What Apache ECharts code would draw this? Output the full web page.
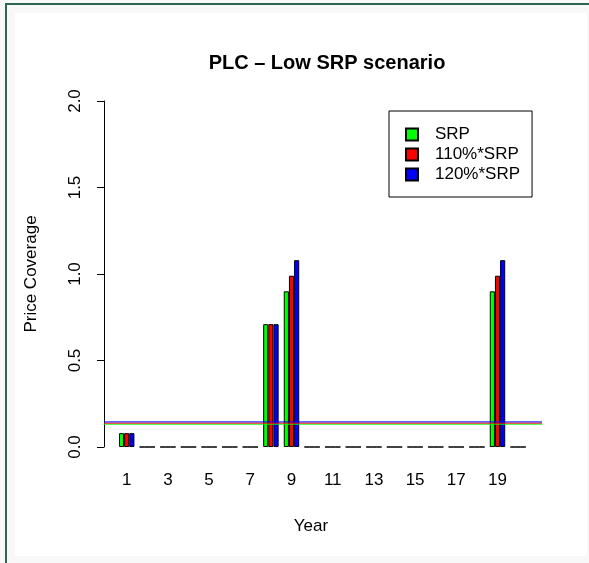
<!DOCTYPE html>
<html>
<head>
<meta charset="utf-8">
<script src="https://cdn.jsdelivr.net/npm/echarts@6/dist/echarts.min.js"></script>
<style>
    body{margin:0;background:#f8f8f8;font-family:"Liberation Sans",Arial,sans-serif;}
    #frame{position:absolute;left:5px;top:3px;width:600px;height:600px;border-left:2px solid #2e6656;border-top:2px solid #2e6656;}
    #chartmain{position:absolute;left:15px;top:13px;width:572px;height:543px;background:#fff;}
</style>
</head>
<body>
<div id="frame"></div>
<div id="chartmain"></div>
<script>
// data
var years=['1','2','3','4','5','6','7','8','9','10','11','12','13','14','15','16','17','18','19','20'];
var srp    =[0.08,0,0,0,0,0,0,0.71,0.90,0,0,0,0,0,0,0,0,0,0.90,0];
var srp110 =[0.08,0,0,0,0,0,0,0.71,0.99,0,0,0,0,0,0,0,0,0,0.99,0];
var srp120 =[0.08,0,0,0,0,0,0,0.71,1.08,0,0,0,0,0,0,0,0,0,1.08,0];
var seriesNames=['SRP','110%*SRP','120%*SRP'];
var hlines=[0.132,0.138,0.145];   // green, red, blue reference lines
var yTicks=[0,0.5,1,1.5,2];

var colors=['#00ff00','#ff0000','#0000ff'];
var font='Liberation Sans';
var myChart=echarts.init(document.getElementById('chartmain'));

function barSeries(name,data,col){
    return {
        name:name,
        type:'bar',
        xAxisIndex:0,
        yAxisIndex:0,
        data:data,
        barWidth:5.15,
        barGap:'0%',
        itemStyle:{color:col,borderColor:'#000',borderWidth:1},
        emphasis:{disabled:true}
    };
}

// horizontal reference line across the whole plot region
function hlineSeries(v,col){
    return {
        type:'line',xAxisIndex:1,yAxisIndex:1,
        data:[[0,v],[1,v]],
        symbol:'none',silent:true,
        lineStyle:{color:col,width:1},
        z:5
    };
}

var option={
    animation:false,
    title:[
        {text:'PLC \u2013 Low SRP scenario',left:307,top:35,textAlign:'center',
         textStyle:{fontFamily:font,fontSize:20,fontWeight:'bold',color:'#000'}},
        {text:'Year',left:291,top:500,textAlign:'center',
         textStyle:{fontFamily:font,fontSize:17,fontWeight:'normal',color:'#000'}}
    ],
    legend:{
        orient:'vertical',
        left:374,top:98,
        data:seriesNames,
        icon:'rect',
        itemWidth:12,itemHeight:12,itemGap:3,
        padding:[15,12,14,16],
        borderColor:'#000',borderWidth:1,
        textStyle:{fontFamily:font,fontSize:17,lineHeight:14,color:'#000',padding:[0,0,0,12]},
        selectedMode:false
    },
    grid:[
        {left:101.4,top:88,width:412,height:346},
        {left:87,top:88,width:440,height:346}
    ],
    xAxis:[
        {type:'category',gridIndex:0,data:years,
         axisLine:{show:false},axisTick:{show:false},
         axisLabel:{interval:1,margin:25,fontFamily:font,fontSize:17,color:'#000'}},
        {type:'value',gridIndex:1,min:0,max:1,show:false}
    ],
    yAxis:[
        {type:'value',gridIndex:0,min:0,max:2,show:false},
        {type:'value',gridIndex:1,min:0,max:2,interval:0.5,
         name:'Price Coverage',nameLocation:'middle',nameGap:64,
         nameTextStyle:{fontFamily:font,fontSize:17,color:'#000'},
         axisLine:{show:true,lineStyle:{color:'#000',width:1}},
         axisTick:{show:true,length:7,lineStyle:{color:'#000'}},
         splitLine:{show:false},
         axisLabel:{rotate:90,margin:20,fontFamily:font,fontSize:17,color:'#000',
             formatter:function(v){return v.toFixed(1);}}}
    ],
    series:[
        barSeries(seriesNames[0],srp,colors[0]),
        barSeries(seriesNames[1],srp110,colors[1]),
        barSeries(seriesNames[2],srp120,colors[2]),
        hlineSeries(hlines[0],colors[0]),
        hlineSeries(hlines[1],colors[1]),
        hlineSeries(hlines[2],colors[2])
    ]
};
myChart.setOption(option);
</script>
</body>
</html>
